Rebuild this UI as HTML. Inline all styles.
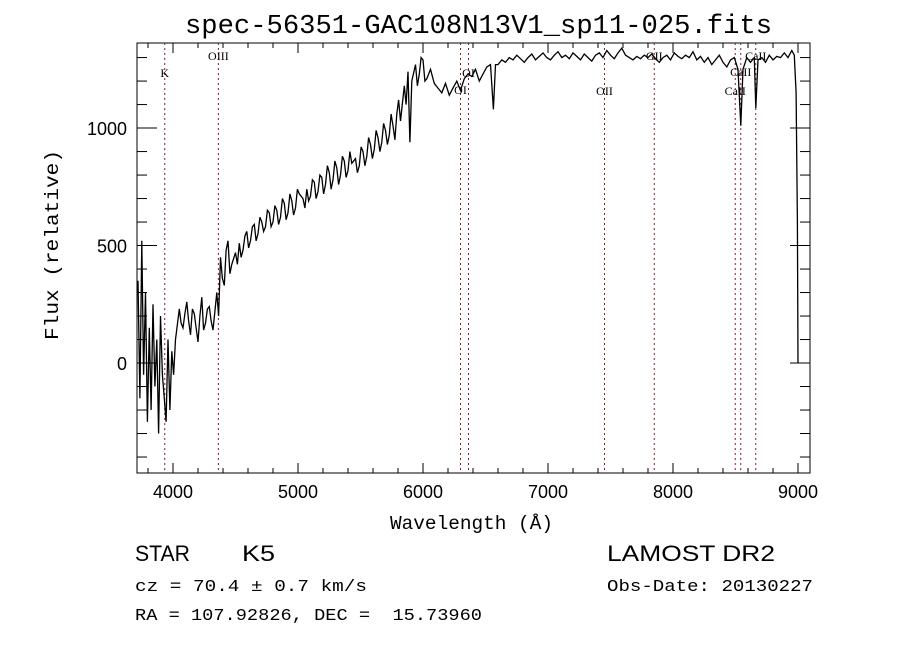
<!DOCTYPE html>
<html><head><meta charset="utf-8"><style>
body{margin:0;background:#fff;width:900px;height:649px;overflow:hidden}
svg{display:block}
</style></head><body>
<svg id="chart" width="900" height="649" xmlns="http://www.w3.org/2000/svg">
<text x="185" y="33" textLength="587" lengthAdjust="spacingAndGlyphs" font-family="Liberation Mono, monospace" font-size="27" fill="#000">spec-56351-GAC108N13V1_sp11-025.fits</text>
<g id="axes"></g>
<g id="lines"></g>
<g id="series"></g>
<text x="390" y="529" textLength="163" lengthAdjust="spacingAndGlyphs" font-family="Liberation Mono, monospace" font-size="19">Wavelength (Å)</text>
<text transform="translate(58,340) rotate(-90)" textLength="190" lengthAdjust="spacingAndGlyphs" font-family="Liberation Mono, monospace" font-size="19">Flux (relative)</text>
<text x="135" y="561" textLength="55" lengthAdjust="spacingAndGlyphs" font-family="Liberation Sans, sans-serif" font-size="22">STAR</text>
<text x="242" y="561" textLength="33" lengthAdjust="spacingAndGlyphs" font-family="Liberation Sans, sans-serif" font-size="22">K5</text>
<text x="607" y="561" textLength="168" lengthAdjust="spacingAndGlyphs" font-family="Liberation Sans, sans-serif" font-size="22">LAMOST DR2</text>
<text x="135" y="591" textLength="232" lengthAdjust="spacingAndGlyphs" font-family="Liberation Mono, monospace" font-size="17">cz = 70.4 ± 0.7 km/s</text>
<text x="607" y="591" textLength="206" lengthAdjust="spacingAndGlyphs" font-family="Liberation Mono, monospace" font-size="17">Obs-Date: 20130227</text>
<text x="135" y="620" textLength="347" lengthAdjust="spacingAndGlyphs" font-family="Liberation Mono, monospace" font-size="17" xml:space="preserve">RA = 107.92826, DEC =  15.73960</text>
</svg>
<script>
const xTicks=[4000,5000,6000,7000,8000,9000];
const yTicks=[0,500,1000];
const lineNames=["K","OIII","OI","OI","OII","GII","CaII","CaII","CaII"];
const lineWaves=[3934,4363,6300,6364,7452,7850,8498,8542,8662];
const lineLabelY=[77,60,94,77,95,60,95,76,60];
const spec=[[3720,350],[3735,-150],[3750,520],[3765,-50],[3780,300],[3795,-250],[3810,150],[3825,-200],[3840,250],[3855,-100],[3870,100],[3885,-300],[3900,200],[3915,-50],[3930,-150],[3945,-250],[3960,100],[3975,-200],[3990,50],[4005,-50],[4020,100],
[4050,230],[4065,170],[4080,150],[4095,210],[4110,260],[4125,180],[4140,120],[4155,230],[4170,210],[4185,150],[4200,90],[4215,200],[4230,280],[4245,140],[4260,170],[4275,230],[4290,240],[4305,180],[4320,140],
[4350,300],[4365,200],[4380,450],[4395,360],[4410,330],[4425,480],[4440,520],[4455,380],[4470,420],
[4500,470],[4515,420],[4530,510],[4545,450],[4560,480],[4575,540],[4590,560],[4605,490],[4620,520],[4635,580],[4650,590],[4665,520],[4680,550],[4695,620],[4710,600],[4725,560],[4740,580],[4755,650],[4770,640],[4785,580],[4800,600],[4815,670],[4830,650],[4845,590],[4860,620],[4875,700],[4890,680],[4905,610],[4920,640],[4935,720],[4950,690],[4965,630],[4980,660],[4995,740],[5010,720],
[5040,700],[5055,660],[5070,740],[5085,690],[5100,710],[5115,780],[5130,770],[5145,700],[5160,730],[5175,800],[5190,790],[5205,720],[5220,760],[5235,840],[5250,810],[5265,740],[5280,780],[5295,860],[5310,830],[5325,760],[5340,800],[5355,880],[5370,860],[5385,790],[5400,820],[5415,900],[5430,850],
[5460,870],[5475,810],[5490,840],[5505,920],[5520,900],[5535,840],[5550,880],[5565,960],[5580,930],[5595,870],[5610,910],[5625,990],[5640,960],[5655,900],[5670,940],[5685,1020],[5700,990],[5715,930],[5730,970],[5745,1060],[5760,1010],[5775,950],[5790,1060],[5805,1120],[5820,1030],
[5850,1180],[5865,1100],[5880,1240],[5895,940],[5910,1200],[5940,1270],[5955,1180],[5970,1230],[5985,1300],[6000,1290],[6015,1200],[6030,1210],[6060,1250],[6090,1190],[6120,1170],[6150,1150],[6180,1190],[6210,1140],[6240,1170],[6270,1200],[6300,1160],[6330,1210],[6360,1230],[6390,1220],[6420,1250],[6450,1200],
[6480,1230],[6510,1260],[6540,1270],[6563,1080],[6580,1270],
[6600,1270],[6630,1290],[6660,1280],[6690,1300],[6720,1290],[6750,1310],[6780,1295],[6810,1280],[6840,1300],[6870,1315],[6900,1290],[6930,1305],[6960,1320],[6990,1300],[7020,1290],[7050,1310],[7080,1325],[7110,1300],[7140,1310],[7170,1295],[7200,1320],[7230,1305],[7260,1290],[7290,1315],[7320,1300],[7350,1285],[7380,1310],[7410,1320],[7440,1300],[7470,1330],[7500,1310],[7530,1295],[7560,1320],[7590,1340],[7620,1310],[7650,1300],[7680,1290],[7710,1305],[7740,1295],[7770,1310],[7800,1300],[7830,1315],[7860,1295],[7890,1280],[7920,1300],[7950,1310],[7980,1290],[8010,1320],[8040,1305],[8070,1295],[8100,1310],[8130,1300],[8160,1325],[8190,1290],[8220,1305],[8250,1280],[8280,1300],[8310,1270],[8340,1290],[8370,1310],[8400,1280],[8430,1260],[8460,1290],[8490,1300],
[8520,1250],[8542,1010],[8560,1250],[8590,1300],[8620,1280],[8650,1300],[8662,1085],[8680,1290],[8710,1300],[8740,1280],[8770,1310],[8800,1290],[8830,1305],[8860,1300],[8890,1320],[8920,1300],[8950,1330],[8970,1310],[8985,1150],[8995,600],[9000,0]];
const X0=3712,X1=9096,Y0=-468,Y1=1362;
const L=137,R=810,T=43,B=473;
const sx=w=>L+(w-X0)/(X1-X0)*(R-L);
const sy=f=>B-(f-Y0)/(Y1-Y0)*(B-T);
const NS="http://www.w3.org/2000/svg";
function mk(tag,attrs,parent){const e=document.createElementNS(NS,tag);for(const k in attrs)e.setAttribute(k,attrs[k]);parent.appendChild(e);return e;}
const axes=document.getElementById('axes');
const frame=mk('rect',{x:L,y:T,width:R-L,height:B-T,fill:'none',stroke:'#000','stroke-width':1},axes);


for(let w=3800;w<=X1;w+=200){const x=sx(w);const major=w%1000===0;const len=major?10:5;
 const t1=mk('line',{x1:x,y1:B,x2:x,y2:B-len,stroke:'#000'},axes);
 
 
 const t2=mk('line',{x1:x,y1:T,x2:x,y2:T+len,stroke:'#000'},axes);
 
 }
xTicks.forEach(v=>{const t=mk('text',{x:sx(v),y:B+25,'text-anchor':'middle','font-family':'Liberation Sans, sans-serif','font-size':18},axes);t.textContent=v;
 
 });
for(let f=-400;f<=1300;f+=100){const y=sy(f);const major=f%500===0;const len=major?20:10;
 const t1=mk('line',{x1:L,y1:y,x2:L+len,y2:y,stroke:'#000'},axes);
 
 
 const t2=mk('line',{x1:R,y1:y,x2:R-len,y2:y,stroke:'#000'},axes);
 
 }
yTicks.forEach(v=>{const t=mk('text',{x:L-10,y:sy(v)+7,'text-anchor':'end','font-family':'Liberation Sans, sans-serif','font-size':18},axes);t.textContent=v;
 
 });
const lines=document.getElementById('lines');
lineWaves.forEach((w,i)=>{const x=sx(w);
 const l=mk('line',{x1:x,y1:T,x2:x,y2:B,stroke:'#8b1a1a','stroke-width':1,'stroke-dasharray':'2,3'},lines);
 
 
 const t=mk('text',{x:x,y:lineLabelY[i],'text-anchor':'middle','font-family':'Liberation Serif, serif','font-size':12},lines);t.textContent=lineNames[i];
 
 });
const series=document.getElementById('series');
const p=mk('polyline',{points:spec.map(d=>sx(d[0]).toFixed(1)+','+sy(d[1]).toFixed(1)).join(' '),fill:'none',stroke:'#000','stroke-width':1.3},series);


</script>
</body></html>
